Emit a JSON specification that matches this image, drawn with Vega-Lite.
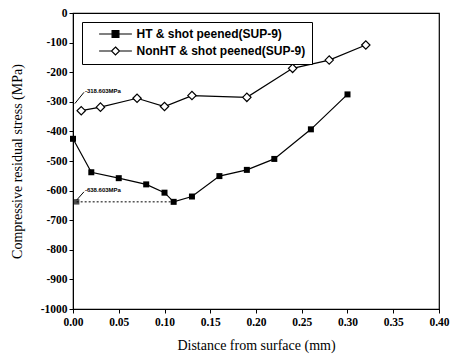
{
  "$schema": "https://vega.github.io/schema/vega-lite/v6.json",
  "width": 366,
  "height": 296,
  "autosize": {"type": "none"},
  "padding": {"left": 73, "top": 13, "right": 12, "bottom": 49},
  "background": "white",
  "view": {"stroke": "black", "strokeWidth": 1.2},
  "config": {"font": "Liberation Serif"},
  "datasets": {
    "series": [
      {"s": "HT & shot peened(SUP-9)", "d": 0.0, "v": -425},
      {"s": "HT & shot peened(SUP-9)", "d": 0.02, "v": -538},
      {"s": "HT & shot peened(SUP-9)", "d": 0.05, "v": -558},
      {"s": "HT & shot peened(SUP-9)", "d": 0.08, "v": -579},
      {"s": "HT & shot peened(SUP-9)", "d": 0.10, "v": -607},
      {"s": "HT & shot peened(SUP-9)", "d": 0.11, "v": -638},
      {"s": "HT & shot peened(SUP-9)", "d": 0.13, "v": -620},
      {"s": "HT & shot peened(SUP-9)", "d": 0.16, "v": -551},
      {"s": "HT & shot peened(SUP-9)", "d": 0.19, "v": -530},
      {"s": "HT & shot peened(SUP-9)", "d": 0.22, "v": -493},
      {"s": "HT & shot peened(SUP-9)", "d": 0.26, "v": -393},
      {"s": "HT & shot peened(SUP-9)", "d": 0.30, "v": -275},
      {"s": "NonHT & shot peened(SUP-9)", "d": 0.009, "v": -330},
      {"s": "NonHT & shot peened(SUP-9)", "d": 0.03, "v": -318},
      {"s": "NonHT & shot peened(SUP-9)", "d": 0.07, "v": -288},
      {"s": "NonHT & shot peened(SUP-9)", "d": 0.10, "v": -316},
      {"s": "NonHT & shot peened(SUP-9)", "d": 0.13, "v": -279},
      {"s": "NonHT & shot peened(SUP-9)", "d": 0.19, "v": -285},
      {"s": "NonHT & shot peened(SUP-9)", "d": 0.24, "v": -187},
      {"s": "NonHT & shot peened(SUP-9)", "d": 0.28, "v": -159},
      {"s": "NonHT & shot peened(SUP-9)", "d": 0.32, "v": -108}
    ],
    "labels": [
      {"d": 0.013, "v": -262, "label": "-318.603MPa"},
      {"d": 0.013, "v": -598, "label": "-638.603MPa"}
    ],
    "leaders": [
      {"d": 0.012, "v": -268, "d2": 0.002, "v2": -306},
      {"d": 0.012, "v": -604, "d2": 0.004, "v2": -632}
    ],
    "dashed": [
      {"d": 0.004, "v": -638, "d2": 0.108, "v2": -638}
    ],
    "surface": [
      {"d": 0.004, "v": -638}
    ]
  },
  "encoding": {
    "x": {
      "field": "d", "type": "quantitative",
      "scale": {"domain": [0, 0.4], "nice": false, "zero": false},
      "axis": {
        "title": "Distance from surface (mm)", "values": [0, 0.05, 0.1, 0.15, 0.2, 0.25, 0.3, 0.35, 0.4], "format": ".2f",
        "grid": false, "domainColor": "black", "tickColor": "black", "labelColor": "black", "titleColor": "black",
        "labelFont": "Liberation Serif", "labelFontWeight": "bold", "labelFontSize": 11.5, "labelOverlap": false, "labelFlush": false,
        "titleFont": "Liberation Serif", "titleFontWeight": "normal", "titleFontSize": 14,
        "tickSize": 4, "labelPadding": 3, "titlePadding": 11,
        "encode": {"ticks": {"update": {"y2": {"value": -4}}}}
      }
    },
    "y": {
      "field": "v", "type": "quantitative",
      "scale": {"domain": [-1000, 0], "nice": false},
      "axis": {
        "title": "Compressive residual stress (MPa)", "values": [0, -100, -200, -300, -400, -500, -600, -700, -800, -900, -1000],
        "labelExpr": "datum.value == 0 ? '0' : '-' + abs(datum.value)",
        "grid": false, "domainColor": "black", "tickColor": "black", "labelColor": "black", "titleColor": "black",
        "labelFont": "Liberation Serif", "labelFontWeight": "bold", "labelFontSize": 11.5, "labelOverlap": false, "labelFlush": false,
        "titleFont": "Liberation Serif", "titleFontWeight": "normal", "titleFontSize": 14,
        "tickSize": 4, "labelPadding": 2, "titlePadding": 16,
        "encode": {"ticks": {"update": {"x2": {"value": 4}}}}
      }
    }
  },
  "layer": [
    {
      "data": {"name": "dashed"},
      "mark": {"type": "rule", "color": "black", "strokeWidth": 1, "strokeDash": [2, 2]},
      "encoding": {"x2": {"field": "d2"}, "y2": {"field": "v2"}}
    },
    {
      "data": {"name": "leaders"},
      "mark": {"type": "rule", "color": "black", "strokeWidth": 1},
      "encoding": {"x2": {"field": "d2"}, "y2": {"field": "v2"}}
    },
    {
      "data": {"name": "series"},
      "mark": {"type": "line", "color": "black", "strokeWidth": 1.2},
      "encoding": {"detail": {"field": "s"}}
    },
    {
      "data": {"name": "series"},
      "transform": [{"filter": "datum.s === 'HT & shot peened(SUP-9)'"}],
      "mark": {"type": "point", "shape": "square", "filled": true, "color": "black", "size": 36, "opacity": 1}
    },
    {
      "data": {"name": "series"},
      "transform": [{"filter": "datum.s === 'NonHT & shot peened(SUP-9)'"}],
      "mark": {"type": "point", "shape": "diamond", "filled": true, "fill": "white", "stroke": "black", "strokeWidth": 1.2, "size": 70, "opacity": 1}
    },
    {
      "data": {"name": "series"},
      "mark": {"type": "point", "filled": true, "strokeWidth": 1.2, "size": 0, "opacity": 1},
      "encoding": {
        "shape": {
          "field": "s", "type": "nominal",
          "scale": {"range": ["M-4.1,0H4.1M-0.85,-0.85H0.85V0.85H-0.85Z", "M-4.1,0H-1M1,0H4.1M0,-1L1,0L0,1L-1,0Z"]},
          "legend": {
            "title": null, "orient": "top-left", "offset": 9,
            "strokeColor": "black", "padding": 6, "fillColor": "white",
            "labelFont": "Liberation Sans", "labelFontWeight": "bold", "labelFontSize": 12, "labelColor": "black", "labelLimit": 400,
            "symbolSize": 64, "symbolOffset": 21.5, "labelOffset": 15, "rowPadding": 4,
            "symbolStrokeWidth": 1.2, "symbolOpacity": 1,
            "encode": {"legend": {"update": {"stroke": {"value": "black"}, "strokeWidth": {"value": 1}}}}
          }
        },
        "fill": {"field": "s", "type": "nominal", "scale": {"range": ["black", "white"]}},
        "stroke": {"field": "s", "type": "nominal", "scale": {"range": ["black", "black"]}}
      }
    },
    {
      "data": {"name": "surface"},
      "mark": {"type": "point", "shape": "square", "filled": true, "color": "black", "size": 30}
    },
    {
      "data": {"name": "labels"},
      "mark": {"type": "text", "align": "left", "baseline": "middle", "font": "Liberation Sans", "fontWeight": "bold", "fontSize": 6, "color": "black"},
      "encoding": {"text": {"field": "label"}}
    }
  ]
}
